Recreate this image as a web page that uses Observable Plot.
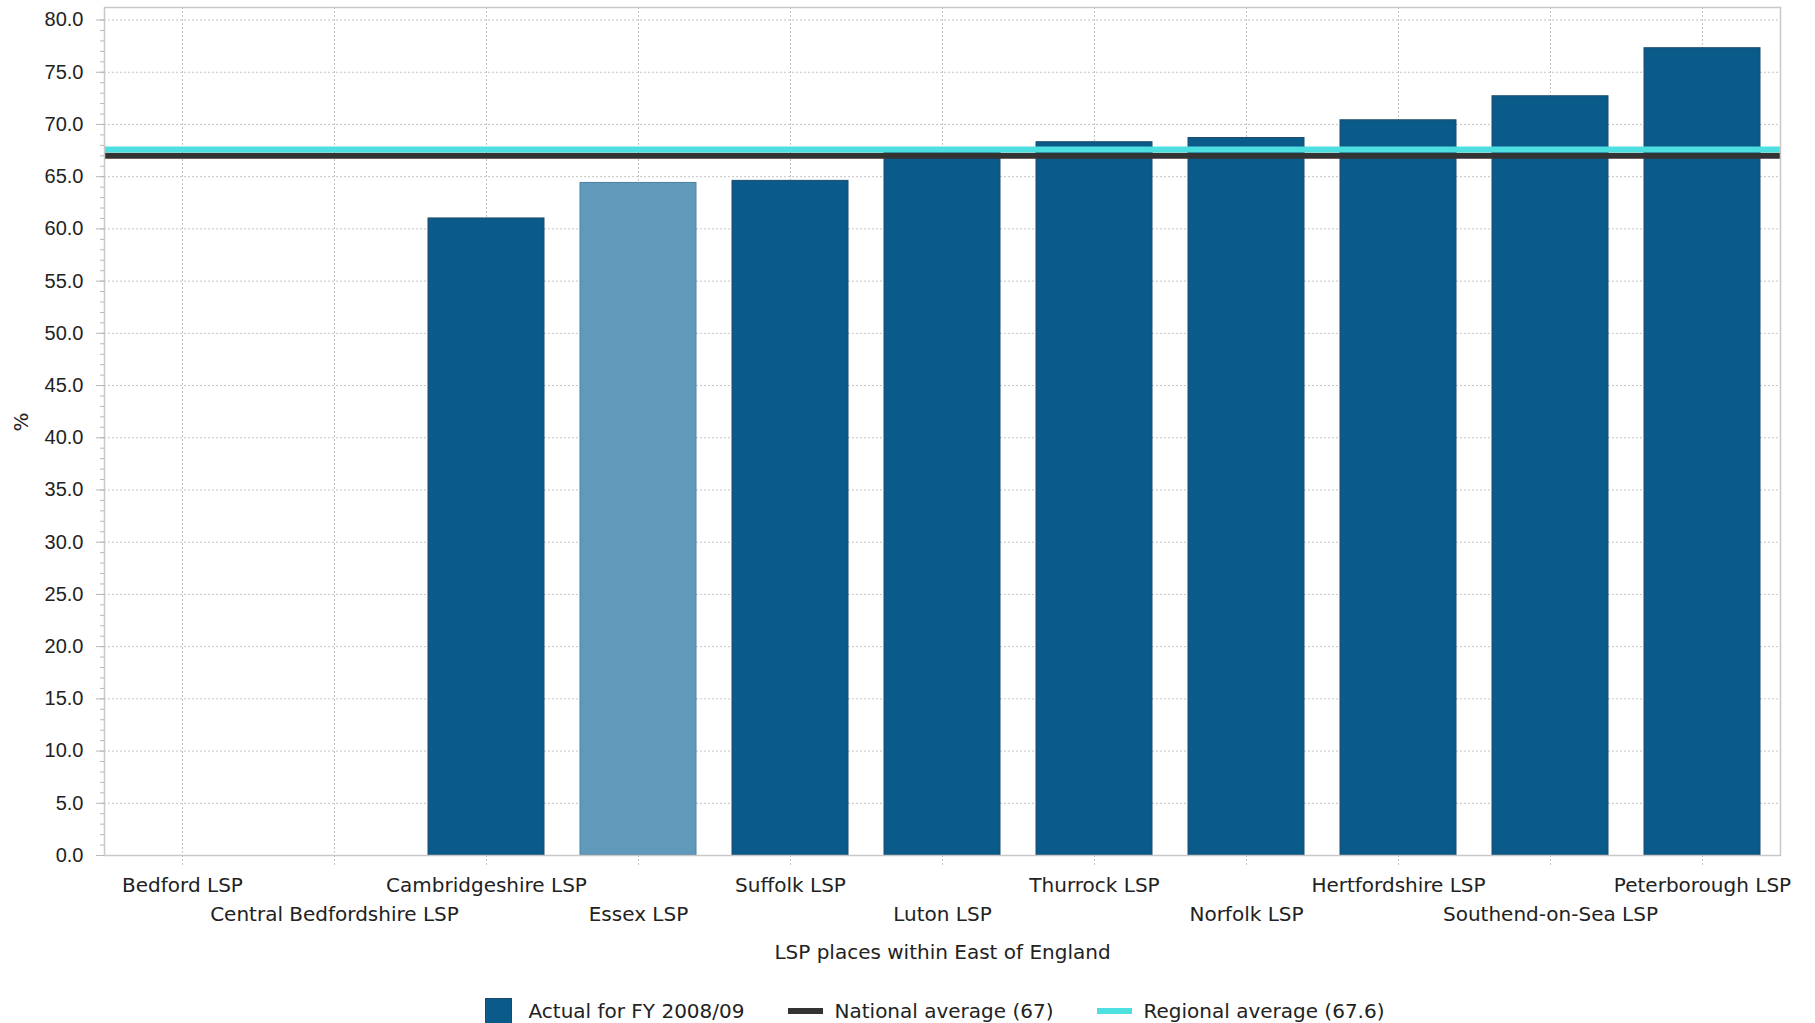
<!DOCTYPE html>
<html>
<head>
<meta charset="utf-8">
<script src="https://cdn.jsdelivr.net/npm/d3@7"></script>
<script src="https://cdn.jsdelivr.net/npm/@observablehq/plot@0.6"></script>
<style>
  html, body { margin: 0; padding: 0; background: #fff; }
  body { font-family: "DejaVu Sans", sans-serif; color: #222; }
  #legend { display: flex; align-items: center; justify-content: center; height: 28px; margin-top: 22px; padding-left: 104px; padding-right: 49px; font-size: 20px; font-family: "DejaVu Sans", sans-serif; }
  .item { display: flex; align-items: center; margin: 0 21.5px; }
  .sw { display: inline-block; }
</style>
</head>
<body>
<div id="chart"></div>
<div id="legend"></div>
<script>
const categories = [
  "Bedford LSP", "Central Bedfordshire LSP", "Cambridgeshire LSP", "Essex LSP",
  "Suffolk LSP", "Luton LSP", "Thurrock LSP", "Norfolk LSP",
  "Hertfordshire LSP", "Southend-on-Sea LSP", "Peterborough LSP"
];
const values = [null, null, 61.0, 64.4, 64.6, 67.3, 68.3, 68.7, 70.4, 72.7, 77.3];
const highlighted = "Essex LSP";
const nationalAverage = 67;
const regionalAverage = 67.6;
const yTicks = [0, 5, 10, 15, 20, 25, 30, 35, 40, 45, 50, 55, 60, 65, 70, 75, 80];
const seriesLabel = "Actual for FY 2008/09";
const nationalLabel = "National average (67)";
const regionalLabel = "Regional average (67.6)";
const xTitle = "LSP places within East of England";
const yTitle = "%";

const dark = "#0a5a8a", light = "#6099b9";
const blackLine = "#333333", cyanLine = "#4ee0e1";
const gridColor = "#c4c4c4";
const labelFont = "'DejaVu Sans', sans-serif";
const numberFont = "'Liberation Sans', Arial, sans-serif";

const data = categories.map((c, i) => ({category: c, value: values[i]})).filter(d => d.value != null);
const minorTicks = d3.range(0, 81, 1);

const chart = Plot.plot({
  width: 1815,
  height: 975,
  marginLeft: 104,
  marginRight: 35,
  marginTop: 7,
  marginBottom: 120,
  style: {fontFamily: labelFont, fontSize: "20px", color: "#222", background: "#fff"},
  x: {type: "band", domain: categories, paddingInner: 0.24, paddingOuter: 0.12, label: null},
  y: {domain: [0, 81.2], label: null},
  marks: [
    Plot.gridY(yTicks, {stroke: gridColor, strokeOpacity: 1, strokeDasharray: "2,2"}),
    Plot.gridX(categories, {stroke: gridColor, strokeOpacity: 1, strokeDasharray: "2,2"}),
    Plot.barY(data, {
      x: "category", y: "value",
      fill: d => d.category === highlighted ? light : dark,
      stroke: d => d.category === highlighted ? "#4a82a3" : "#1c4a6b",
      strokeWidth: 1
    }),
    Plot.ruleY([nationalAverage], {stroke: blackLine, strokeWidth: 6}),
    Plot.ruleY([regionalAverage], {stroke: cyanLine, strokeWidth: 6}),
    Plot.frame({stroke: "#c8c8c8", strokeWidth: 1.5}),
    Plot.axisY(minorTicks, {tickSize: 4, tickFormat: () => "", stroke: "#b8b8b8", label: null}),
    Plot.axisY(yTicks, {tickSize: 8, tickPadding: 13, tickFormat: d3.format(".1f"), stroke: "#b8b8b8", label: null, fill: "#222", fontFamily: numberFont, fontSize: 20}),
    Plot.axisX({tickSize: 10, tickFormat: () => "", stroke: gridColor, strokeDasharray: "2,2", label: null}),
    Plot.axisX(categories.filter((_, i) => i % 2 === 0), {tickSize: 0, tickPadding: 22, label: null, fill: "#222", fontSize: 20}),
    Plot.axisX(categories.filter((_, i) => i % 2 === 1), {tickSize: 0, tickPadding: 51, label: null, fill: "#222", fontSize: 20}),
    Plot.text([xTitle], {frameAnchor: "bottom", dy: 103, fill: "#222", fontSize: 20}),
    Plot.text([yTitle], {frameAnchor: "left", dx: -83, rotate: -90, fill: "#222", fontSize: 20})
  ]
});
document.getElementById("chart").appendChild(chart);

const legend = document.getElementById("legend");
const items = [
  {label: seriesLabel, sw: `<span class="sw" style="width:27px;height:27px;margin-right:16px;background:${dark};border:1px solid #1c4a6b;box-sizing:border-box"></span>`},
  {label: nationalLabel, sw: `<span class="sw" style="width:35px;height:6px;margin-right:12px;background:${blackLine}"></span>`},
  {label: regionalLabel, sw: `<span class="sw" style="width:35px;height:6px;margin-right:12px;background:${cyanLine}"></span>`}
];
legend.innerHTML = items.map(it => `<div class="item">${it.sw}<span>${it.label}</span></div>`).join("");
</script>
</body>
</html>
